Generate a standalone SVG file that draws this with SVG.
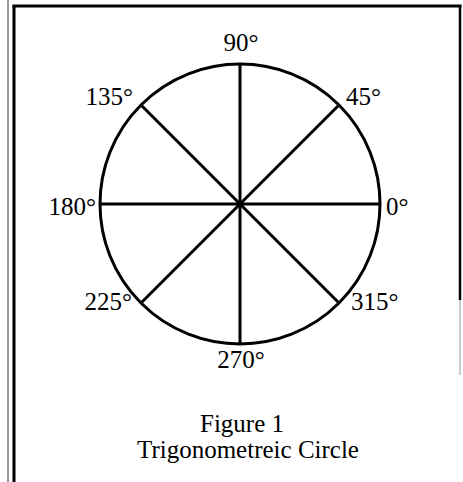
<svg xmlns="http://www.w3.org/2000/svg" width="463" height="482" viewBox="0 0 463 482">
<style>
.lbl{font-family:"Liberation Serif","Times New Roman",serif;font-size:25px;fill:#000}
.ln{stroke:#000;stroke-width:3;fill:none}
</style>
<rect width="463" height="482" fill="#fff"/>
<g id="frame">
<line x1="8" y1="0" x2="8" y2="482" stroke="#999" stroke-width="2"/>
<line x1="14" y1="5" x2="14" y2="482" stroke="#000" stroke-width="3"/>
<line x1="12.5" y1="6" x2="461.5" y2="6" stroke="#000" stroke-width="3"/>
<line x1="460" y1="5" x2="460" y2="300" stroke="#000" stroke-width="2.5"/>
<line x1="460" y1="300" x2="460" y2="375" stroke="#bbb" stroke-width="1.5"/>
</g>
<g id="circle">
<circle cx="240" cy="204" r="140" class="ln"/>
</g>
<g id="connectors">
<line x1="100" y1="204" x2="380" y2="204" class="ln"/>
<line x1="240" y1="64" x2="240" y2="344" class="ln"/>
<line x1="141" y1="105" x2="339" y2="303" class="ln"/>
<line x1="339" y1="105" x2="141" y2="303" class="ln"/>
</g>
<g id="labels">
<text class="lbl" x="241" y="51" text-anchor="middle">90°</text>
<text class="lbl" x="133" y="105" text-anchor="end">135°</text>
<text class="lbl" x="346" y="105">45°</text>
<text class="lbl" x="96" y="215" text-anchor="end">180°</text>
<text class="lbl" x="386" y="215">0°</text>
<text class="lbl" x="132" y="310" text-anchor="end">225°</text>
<text class="lbl" x="351" y="310">315°</text>
<text class="lbl" x="241" y="368" text-anchor="middle">270°</text>
</g>
<g id="caption">
<text class="lbl" x="242" y="432" text-anchor="middle">Figure 1</text>
<text class="lbl" x="248" y="458" text-anchor="middle">Trigonometreic Circle</text>
</g>
</svg>
